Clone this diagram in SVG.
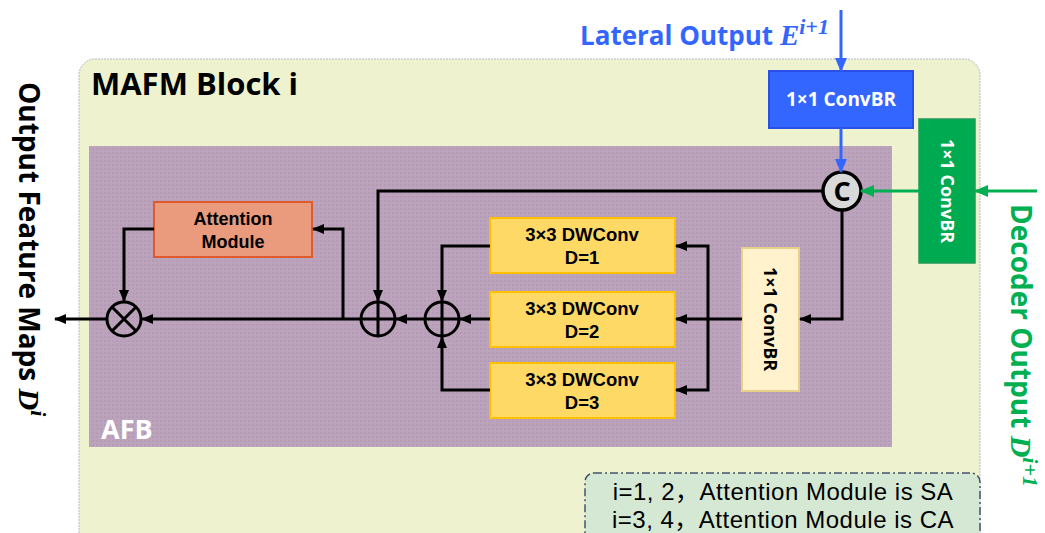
<svg xmlns="http://www.w3.org/2000/svg" width="1045" height="533" viewBox="0 0 1045 533">
<defs>
<marker id="ak" markerUnits="userSpaceOnUse" markerWidth="12" markerHeight="12" refX="11" refY="6" orient="auto"><path d="M0,1 L12,6 L0,11 z" fill="#000"/></marker>
<marker id="ab" markerUnits="userSpaceOnUse" markerWidth="14" markerHeight="14" refX="13" refY="7" orient="auto"><path d="M0,1 L14,7 L0,13 z" fill="#3366FF"/></marker>
<marker id="ag" markerUnits="userSpaceOnUse" markerWidth="14" markerHeight="14" refX="13" refY="7" orient="auto"><path d="M0,1 L14,7 L0,13 z" fill="#00B050"/></marker>
<pattern id="pp" width="4" height="4" patternUnits="userSpaceOnUse"><rect width="4" height="4" fill="#BCA3BC"/><rect width="2" height="2" fill="#B59BB6"/></pattern>
</defs>
<style>
.t{font-family:"Open Sans","Noto Sans","Liberation Sans",sans-serif;font-weight:bold}
.b{font-family:"Liberation Sans",Arial,sans-serif;font-weight:bold}
.m{font-family:"Liberation Serif",serif;font-style:italic;font-weight:bold}
.k{fill:none;stroke:#000;stroke-width:3;marker-end:url(#ak)}
.c{fill:none;stroke:#000;stroke-width:3}
.dw{fill:#FFD966;stroke:#FFC000;stroke-width:2}
.n{font-family:"Liberation Sans","Noto Sans CJK SC",sans-serif;font-size:24px;letter-spacing:0.5px;fill:#000}
</style>
<g id="mafm-block">
<rect x="79" y="59" width="901" height="490" rx="16" fill="#EEF2CE" stroke="#B8B8C8" stroke-width="1" stroke-dasharray="2,1"/>
<text class="t" x="91" y="95" font-size="31" fill="#000">MAFM Block i</text>
</g>
<g id="afb">
<rect x="89" y="146" width="803" height="301" fill="url(#pp)"/>
<text class="t" x="101" y="439" font-size="27" fill="#fff">AFB</text>
</g>
<g id="lateral-label">
<text class="t" x="580" y="45" font-size="26" fill="#3366FF">Lateral Output <tspan class="m" font-size="29">E</tspan><tspan class="m" font-size="22" dy="-11">i+1</tspan></text>
</g>
<g id="conv-blue">
<rect x="769" y="71" width="144" height="57" fill="#3366FF" stroke="#2A4FE6" stroke-width="2"/>
<text class="t" x="841" y="106" font-size="19" fill="#fff" text-anchor="middle">1×1 ConvBR</text>
</g>
<g id="conv-green">
<rect x="919" y="119" width="56" height="144" fill="#00AA50" stroke="#1F9A5A" stroke-width="1.5"/>
<text class="t" transform="translate(941,191) rotate(90)" font-size="18" fill="#fff" text-anchor="middle">1×1 ConvBR</text>
</g>
<g id="decoder-label">
<text class="t" transform="translate(1011,204) rotate(90)" font-size="28" fill="#00B050">Decoder Output <tspan class="m" font-size="30">D</tspan><tspan class="m" font-size="22" dy="-12">i+1</tspan></text>
</g>
<g id="output-label">
<text class="t" transform="translate(19,82) rotate(90)" font-size="28" fill="#000">Output Feature Maps <tspan class="m" font-size="30">D</tspan><tspan class="m" font-size="22" dy="-12">i</tspan></text>
</g>
<g id="concat">
<circle cx="842" cy="191" r="19" fill="#D9D9D9" stroke="#000" stroke-width="3.5"/>
<text class="t" x="842" y="201" font-size="27" fill="#000" text-anchor="middle">C</text>
</g>
<g id="conv-yellow">
<rect x="742" y="248" width="57" height="143" fill="#FFF2CC" stroke="#E6D08A" stroke-width="2"/>
<text class="t" transform="translate(764,319) rotate(90)" font-size="18" fill="#000" text-anchor="middle">1×1 ConvBR</text>
</g>
<g id="dwconv1">
<rect class="dw" x="490" y="218" width="185" height="55"/>
<text class="b" x="582" y="241" font-size="18.5" text-anchor="middle">3×3 DWConv</text>
<text class="b" x="582" y="264" font-size="18.5" text-anchor="middle">D=1</text>
</g>
<g id="dwconv2">
<rect class="dw" x="490" y="292" width="185" height="55"/>
<text class="b" x="582" y="315" font-size="18.5" text-anchor="middle">3×3 DWConv</text>
<text class="b" x="582" y="338" font-size="18.5" text-anchor="middle">D=2</text>
</g>
<g id="dwconv3">
<rect class="dw" x="490" y="363" width="185" height="55"/>
<text class="b" x="582" y="386" font-size="18.5" text-anchor="middle">3×3 DWConv</text>
<text class="b" x="582" y="409" font-size="18.5" text-anchor="middle">D=3</text>
</g>
<g id="attention">
<rect x="154" y="202" width="158" height="55" fill="#EA9A7D" stroke="#E05A2B" stroke-width="2"/>
<text class="b" x="233" y="225" font-size="18" text-anchor="middle">Attention</text>
<text class="b" x="233" y="248" font-size="18" text-anchor="middle">Module</text>
</g>
<g id="plus2">
<circle cx="442" cy="319" r="17" fill="none" stroke="#000" stroke-width="3"/>
<path d="M425,319 H459 M442,302 V336" class="c"/>
</g>
<g id="plus1">
<circle cx="378" cy="319" r="17" fill="none" stroke="#000" stroke-width="3"/>
<path d="M361,319 H395 M378,302 V336" class="c"/>
</g>
<g id="mult">
<circle cx="124" cy="319" r="17" fill="none" stroke="#000" stroke-width="3"/>
<path d="M112,307 L136,331 M136,307 L112,331" class="c"/>
</g>
<g id="connectors">
<path d="M841,10 V71" fill="none" stroke="#3366FF" stroke-width="3" marker-end="url(#ab)"/>
<path d="M841,128 V172" fill="none" stroke="#3366FF" stroke-width="3" marker-end="url(#ab)"/>
<path d="M1037,191 H975" fill="none" stroke="#00B050" stroke-width="3" marker-end="url(#ag)"/>
<path d="M919,191 H861" fill="none" stroke="#00B050" stroke-width="3" marker-end="url(#ag)"/>
<path d="M823,191 H378 V301" class="k"/>
<path d="M842,210 V319 H800" class="k"/>
<path d="M742,319 H676" class="k"/>
<path d="M708,319 V246 H676" class="k"/>
<path d="M708,319 V390 H676" class="k"/>
<path d="M490,246 H442 V301" class="k"/>
<path d="M490,319 H460" class="k"/>
<path d="M490,390 H442 V337" class="k"/>
<path d="M425,319 H396" class="k"/>
<path d="M361,319 H142" class="k"/>
<path d="M343,319 V229 H313" class="k"/>
<path d="M154,229 H124 V301" class="k"/>
<path d="M107,319 H55" class="k"/>
</g>
<g id="note">
<rect x="585" y="473" width="395" height="75" rx="9" fill="#D5E8D4" stroke="#44546A" stroke-width="1.5" stroke-dasharray="8,3,2,3"/>
<text class="n" x="783" y="500" text-anchor="middle">i=1, 2，Attention Module is SA</text>
<text class="n" x="783" y="528" text-anchor="middle">i=3, 4，Attention Module is CA</text>
</g>
</svg>
